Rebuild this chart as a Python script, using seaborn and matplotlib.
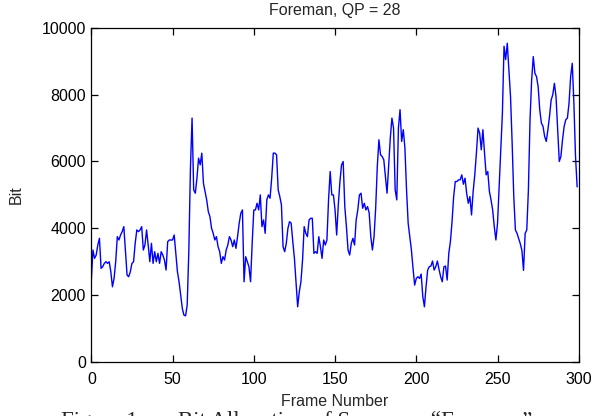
import numpy             as np
import pandas            as pd
import matplotlib
matplotlib.use('Agg')
import matplotlib.pyplot as plt
import seaborn           as sns

## Bits per frame (Foreman, QP = 28)
bits_000 = [2450, 3350, 3100, 3200, 3500, 3700, 2800, 2850, 2950, 3000,
            2950, 3000, 2700, 2250, 2500, 3000, 3750, 3650, 3800, 3900,
            4050, 3300, 2600, 2550, 2700, 2950, 3000, 3550, 3950, 3900,
            3950, 4050, 3350, 3500, 3950, 3500, 3000, 3550, 2950, 3300,
            3000, 3250, 2950, 3300, 3200, 3050, 2750, 3600, 3650, 3650]
bits_050 = [3650, 3800, 3250, 2700, 2400, 2000, 1600, 1400, 1380, 1700,
            3300, 5800, 7300, 5150, 5050, 5500, 6100, 5900, 6250, 5350,
            5100, 4850, 4500, 4350, 4000, 3850, 3650, 3750, 3450, 3300,
            2950, 3150, 3050, 3350, 3500, 3750, 3650, 3450, 3650, 3400,
            3750, 4150, 4450, 4550, 2400, 3150, 3000, 2850, 2400, 3550]
bits_100 = [4550, 4550, 4750, 4550, 5000, 4050, 4250, 3850, 4850, 5000,
            4900, 5500, 6250, 6250, 6200, 5150, 4950, 4700, 3450, 3300,
            3550, 4000, 4200, 4150, 3600, 3100, 2350, 1650, 2100, 2400,
            3050, 4050, 3850, 3750, 4250, 4300, 4300, 3250, 3300, 3250,
            3750, 3450, 3100, 3650, 3500, 3650, 4850, 5700, 5000, 5000]
bits_150 = [4550, 3800, 4700, 5400, 5900, 6000, 4650, 4050, 3350, 3200,
            3550, 3700, 3500, 4250, 4550, 5000, 5050, 4600, 4750, 4550,
            4650, 4460, 3750, 3350, 3750, 4600, 5850, 6650, 6200, 6150,
            6050, 5550, 5050, 5850, 6700, 7300, 7000, 5150, 4850, 7000,
            7550, 6600, 6950, 6400, 5150, 4150, 3750, 3350, 2800, 2300]
bits_200 = [2500, 2550, 2500, 2630, 1960, 1650, 2250, 2750, 2850, 2870,
            3020, 2750, 2850, 3020, 2770, 2550, 2400, 2850, 2870, 2450,
            3250, 3600, 4200, 4950, 5400, 5400, 5450, 5450, 5600, 5320,
            5500, 5050, 4750, 4950, 4400, 5100, 5600, 6250, 7000, 6850,
            6350, 6950, 6250, 5600, 5700, 5100, 4850, 4550, 4050, 3650]
bits_250 = [4150, 5250, 6350, 7450, 9450, 9050, 9540, 8740, 7940, 6550,
            4950, 3950, 3850, 3700, 3540, 3340, 2740, 3850, 3950, 5150,
            7250, 8440, 9140, 8640, 8540, 8240, 7540, 7150, 7050, 6750,
            6600, 6950, 7350, 7840, 8000, 8340, 7940, 6950, 6000, 6150,
            6650, 7050, 7250, 7300, 7740, 8540, 8940, 7740, 6150, 5240]

bits   = bits_000 + bits_050 + bits_100 + bits_150 + bits_200 + bits_250
frames = np.arange(len(bits))

x_ticks = [0, 50, 100, 150, 200, 250, 300]
y_ticks = [0, 2000, 4000, 6000, 8000, 10000]

df = pd.DataFrame({'frame': frames, 'bit': bits})

sns.set_style('ticks')
plt.rcParams['font.family'] = ['Liberation Sans', 'DejaVu Sans']

fig = plt.figure(figsize = (5.93, 4.16), dpi = 100)
ax  = fig.add_axes([0.154, 0.130, 0.822, 0.803])

sns.lineplot(data = df, x = 'frame', y = 'bit', color = '#0000ff',
             linewidth = 1.0, ax = ax)

ax.set_xlim(0, 300)
ax.set_ylim(0, 10000)
ax.set_xticks(x_ticks)
ax.set_yticks(y_ticks)
for s in ax.spines.values():
    s.set_visible(True)
    s.set_linewidth(0.9)
    s.set_color('black')
ax.tick_params(direction = 'in', length = 5, width = 0.9, labelsize = 11.5,
               top = True, right = True, colors = 'black', pad = 4)
ax.tick_params(axis = 'x', pad = 7)

ax.set_title('Foreman, QP = 28', fontsize = 11.5, pad = 9)
ax.set_xlabel('Frame Number', fontsize = 11.5, labelpad = 5)
ax.set_ylabel('Bit', fontsize = 11.5, labelpad = 13)

## Caption cut off at the bottom of the image
fig.text(0.103, 0.012, 'Figure 1.  \u2013  Bit Allocation of Sequence \u201cForeman\u201d',
         family = ['Liberation Serif'], fontsize = 16.5, va = 'top', ha = 'left')

fig.savefig('out.png', dpi = 100)
